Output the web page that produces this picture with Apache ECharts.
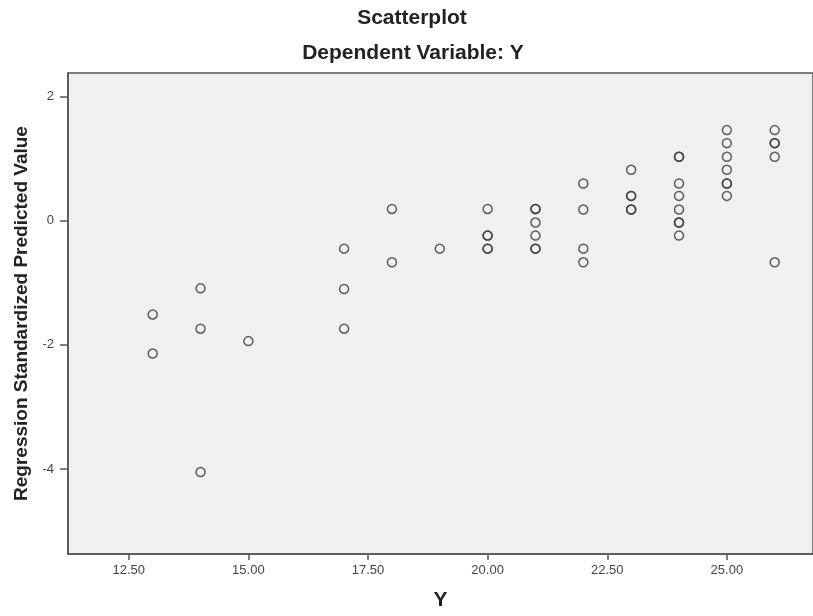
<!DOCTYPE html>
<html>
<head>
<meta charset="utf-8">
<script src="https://cdn.jsdelivr.net/npm/echarts@6/dist/echarts.min.js"></script>
<style>
html,body{margin:0;padding:0;background:#fff;}
#chart{width:813px;height:616px;}
</style>
</head>
<body>
<div id="chart"></div>
<script>
// Observed values (Y on x-axis, standardized predicted value on y-axis)
const yObserved = [13,13, 14,14,14, 15, 17,17,17, 18,18, 19,
  20,20,20,20,20, 21,21,21,21,21,21, 22,22,22,22,
  23,23,23,23,23, 24,24,24,24,24,24,24,24,
  25,25,25,25,25,25,25, 26,26,26,26,26];
const predictedStd = [-1.51,-2.14, -1.09,-1.74,-4.05, -1.94, -0.45,-1.10,-1.74, 0.19,-0.67, -0.45,
  0.19,-0.24,-0.24,-0.45,-0.45, 0.19,0.19,-0.03,-0.24,-0.45,-0.45, 0.60,0.18,-0.45,-0.67,
  0.82,0.40,0.40,0.18,0.18, 1.03,1.03,0.60,0.40,0.18,-0.03,-0.03,-0.24,
  1.46,1.25,1.03,0.82,0.60,0.60,0.40, 1.46,1.25,1.25,1.03,-0.67];
const xTicks = [12.5, 15, 17.5, 20, 22.5, 25];
const yTicks = [-4, -2, 0, 2];
const titleText = 'Scatterplot';
const subtitleText = 'Dependent Variable: Y';
const xName = 'Y';
const yName = 'Regression Standardized Predicted Value';

const points = yObserved.map((v, i) => [v, predictedStd[i]]);

const chart = echarts.init(document.getElementById('chart'), null, {renderer: 'canvas'});
const axisCol = '#555';
const fontFam = '"Liberation Sans", Arial, sans-serif';
chart.setOption({
  backgroundColor: '#fff',
  animation: false,
  graphic: [
    {type: 'text', x: 412, y: 18, style: {text: titleText, align: 'center', verticalAlign: 'middle', font: 'bold 21px ' + fontFam, fill: '#222'}},
    {type: 'text', x: 413, y: 53, style: {text: subtitleText, align: 'center', verticalAlign: 'middle', font: 'bold 21px ' + fontFam, fill: '#222'}}
  ],
  grid: {
    left: 68, top: 73, right: -9, bottom: 59,
    show: true, backgroundColor: '#f0f0f0', borderColor: axisCol, borderWidth: 1.5
  },
  xAxis: {
    type: 'value', min: 11.23, max: 26.8,
    name: xName, nameLocation: 'middle', nameGap: 36,
    nameTextStyle: {fontFamily: fontFam, fontSize: 21, fontWeight: 'bold', color: '#222'},
    axisLine: {show: true, onZero: false, lineStyle: {color: axisCol, width: 1.5}},
    axisTick: {show: true, customValues: xTicks, length: 6, lineStyle: {color: axisCol, width: 1.5}},
    axisLabel: {customValues: xTicks, formatter: v => Number(v).toFixed(2), fontFamily: fontFam, fontSize: 13, color: '#444', margin: 10},
    splitLine: {show: false}
  },
  yAxis: {
    type: 'value', min: -5.37, max: 2.38,
    name: yName, nameLocation: 'middle', nameGap: 32,
    nameTextStyle: {fontFamily: fontFam, fontSize: 19, fontWeight: 'bold', color: '#222'},
    axisLine: {show: true, onZero: false, lineStyle: {color: axisCol, width: 1.5}},
    axisTick: {show: true, customValues: yTicks, length: 8, lineStyle: {color: axisCol, width: 1.5}},
    axisLabel: {customValues: yTicks, fontFamily: fontFam, fontSize: 13, color: '#444', margin: 14},
    splitLine: {show: false}
  },
  series: [{
    type: 'scatter',
    data: points,
    symbol: 'circle',
    symbolSize: 9,
    itemStyle: {color: 'rgba(0,0,0,0)', borderColor: '#383838', borderWidth: 1.5}
  }]
});
</script>
</body>
</html>
